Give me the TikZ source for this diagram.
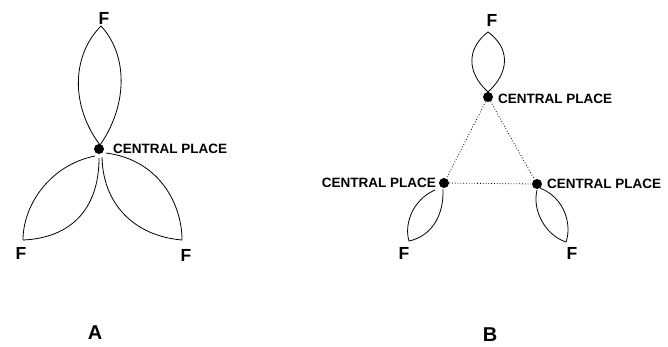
\documentclass[tikz,border=0pt]{standalone}
\usepackage{fontspec}
\setmainfont{Liberation Sans}
\begin{document}
\begin{tikzpicture}[x=1pt,y=-1pt,
  leaf/.style={draw=black,line width=0.8pt},
  dot/.style={circle,fill=black,inner sep=0pt,minimum size=10pt},
  cp/.style={inner sep=0pt,font=\fontsize{13.5}{14}\selectfont\bfseries},
  flab/.style={inner sep=0pt,font=\fontsize{17.5}{18}\selectfont\bfseries},
  panel/.style={inner sep=0pt,font=\fontsize{20}{21}\selectfont\bfseries},
  link/.style={draw=black,line width=0.8pt,dotted}]
\useasboundingbox (0,0) rectangle (668,346);
% ---------- Diagram A ----------
\coordinate (at) at (101,26);
\coordinate (al) at (23,240);
\coordinate (ar) at (182,240);
\draw[leaf] (100,145) .. controls (70,105) and (72,55) .. (at)
            .. controls (128,55) and (128,105) .. (100,145);
\draw[leaf] (95,156) .. controls (50,165) and (23,205) .. (al)
            .. controls (70,238) and (99,210) .. (99,158);
\draw[leaf] (106,153) .. controls (160,160) and (182,205) .. (ar)
            .. controls (135,236) and (103,205) .. (102,157);
\node[dot] (ca) at (99,149) {};
\node[cp,anchor=west] (cal) at (113,149) {CENTRAL PLACE};
\node[flab] (fat) at (104,18) {F};
\node[flab] (fal) at (21,253) {F};
\node[flab] (far) at (186,255) {F};
\node[panel] (pa) at (95,333) {A};
% ---------- Diagram B ----------
\coordinate (bt) at (488,32);
\coordinate (bl) at (409,241);
\coordinate (br) at (566,242);
\draw[leaf] (488,92) .. controls (466,72) and (467,48) .. (bt)
            .. controls (510,48) and (510,72) .. (488,92);
\draw[leaf] (435,190) .. controls (412,200) and (404,225) .. (bl)
            .. controls (432,236) and (444,215) .. (443,189);
\draw[leaf] (540,188) .. controls (565,198) and (572,225) .. (br)
            .. controls (545,235) and (532,210) .. (537,190);
\node[dot] (cbt) at (488,97) {};
\node[dot] (cbl) at (444,183) {};
\node[dot] (cbr) at (537,184) {};
\draw[link] (cbt) -- (cbl);
\draw[link] (cbt) -- (cbr);
\draw[link] (cbl) -- (cbr);
\node[cp,anchor=west] (cbtl) at (498,99) {CENTRAL PLACE};
\node[cp,anchor=east] (cbll) at (436,183) {CENTRAL PLACE};
\node[cp,anchor=west] (cbrl) at (547,184) {CENTRAL PLACE};
\node[flab] (fbt) at (492,20) {F};
\node[flab] (fbl) at (404,253) {F};
\node[flab] (fbr) at (572,253) {F};
\node[panel] (pb) at (490,335) {B};
\end{tikzpicture}
\end{document}
